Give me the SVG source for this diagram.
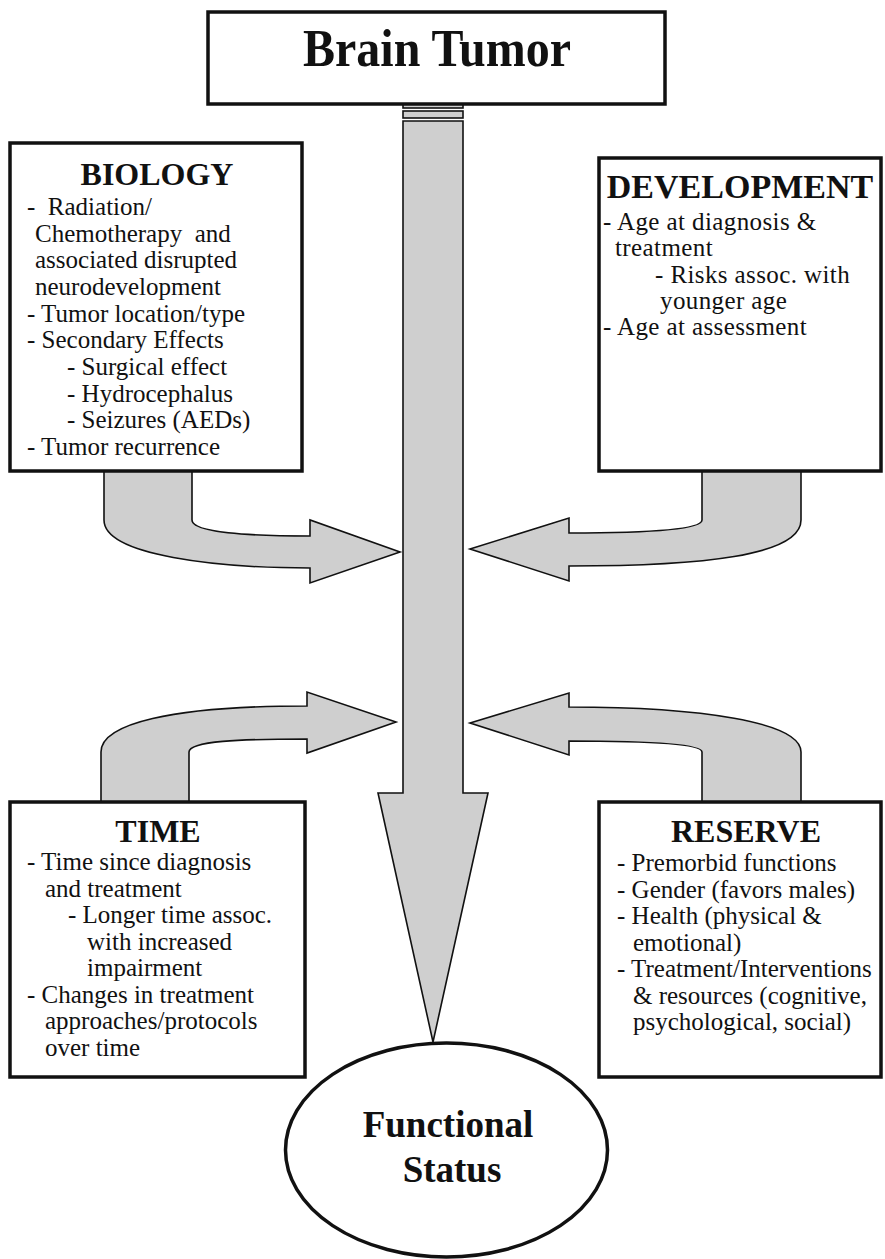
<svg xmlns="http://www.w3.org/2000/svg" width="885" height="1259" viewBox="0 0 885 1259">
  <style>
    .box { fill: #ffffff; stroke: #111111; stroke-width: 3.5; }
    .flow { fill: #cfcfcf; stroke: #111111; stroke-width: 1.6; stroke-linejoin: miter; }
    .title { font-family: "Liberation Serif", "Times New Roman", serif; font-weight: bold; fill: #111111; text-anchor: middle; }
    .body { font-family: "Liberation Serif", "Times New Roman", serif; font-size: 25px; fill: #111111; }
    .dev { letter-spacing: 0.4px; }
  </style>
  <rect width="885" height="1259" fill="#ffffff"/>

  <!-- connectors: the main downward arrow and the four curved influence arrows -->
  <g id="connectors">
    <rect class="flow" x="403" y="104" width="60" height="4"/>
    <rect class="flow" x="403" y="111" width="60" height="7"/>
    <path class="flow" d="M403,121 L463,121 L463,793 L488,793 L433,1042 L378,793 L403,793 Z"/>
    <path class="flow" d="M104,468 L104,520 C104,556 220,568 310,568 L310,583 L400,552 L310,520 L310,536 C250,536 192,533 192,520 L192,468 Z"/>
    <path class="flow" d="M702,468 L702,520 C702,530 640,533 569,533 L569,518 L470,549 L569,581 L569,566 C700,566 801,556 801,520 L801,468 Z"/>
    <path class="flow" d="M101,805 L101,752 C101,724 170,706 307,706 L307,692 L396,722 L307,753 L307,739 C240,739 189,741 189,752 L189,805 Z"/>
    <path class="flow" d="M702,805 L702,752 C702,744 650,741 569,741 L569,755 L470,723 L569,693 L569,707 C700,707 801,722 801,752 L801,805 Z"/>
  </g>

  <g id="brain-tumor">
    <rect class="box" x="208" y="12" width="457" height="92" stroke-width="4"/>
    <text class="title" font-size="48" transform="translate(437,66) scale(1,1.08)">Brain Tumor</text>
  </g>

  <g id="biology">
    <rect class="box" x="10" y="143" width="292" height="328"/>
    <text class="title" x="157" y="185" font-size="32">BIOLOGY</text>
    <text class="body" xml:space="preserve">
      <tspan x="27" y="215">-  Radiation/</tspan>
      <tspan x="35" y="241.7">Chemotherapy  and</tspan>
      <tspan x="35" y="268.3">associated disrupted</tspan>
      <tspan x="35" y="295">neurodevelopment</tspan>
      <tspan x="27" y="321.7">- Tumor location/type</tspan>
      <tspan x="27" y="348.3">- Secondary Effects</tspan>
      <tspan x="67" y="375">- Surgical effect</tspan>
      <tspan x="67" y="401.7">- Hydrocephalus</tspan>
      <tspan x="67" y="428.3">- Seizures (AEDs)</tspan>
      <tspan x="27" y="455">- Tumor recurrence</tspan>
    </text>
  </g>

  <g id="development">
    <rect class="box" x="599" y="158" width="282" height="313"/>
    <text class="title" x="740" y="198" font-size="34">DEVELOPMENT</text>
    <text class="body dev">
      <tspan x="603" y="230">- Age at diagnosis &amp;</tspan>
      <tspan x="615" y="256.3">treatment</tspan>
      <tspan x="655" y="282.6">- Risks assoc. with</tspan>
      <tspan x="660" y="308.9">younger age</tspan>
      <tspan x="603" y="335.2">- Age at assessment</tspan>
    </text>
  </g>

  <g id="time">
    <rect class="box" x="10" y="802" width="295" height="275"/>
    <text class="title" x="158" y="842" font-size="32">TIME</text>
    <text class="body">
      <tspan x="27" y="870">- Time since diagnosis</tspan>
      <tspan x="45" y="896.5">and treatment</tspan>
      <tspan x="68" y="923">- Longer time assoc.</tspan>
      <tspan x="87" y="949.5">with increased</tspan>
      <tspan x="87" y="976">impairment</tspan>
      <tspan x="27" y="1002.5">- Changes in treatment</tspan>
      <tspan x="45" y="1029">approaches/protocols</tspan>
      <tspan x="45" y="1055.5">over time</tspan>
    </text>
  </g>

  <g id="reserve">
    <rect class="box" x="599" y="802" width="282" height="275"/>
    <text class="title" x="746" y="842" font-size="32">RESERVE</text>
    <text class="body">
      <tspan x="617" y="871">- Premorbid functions</tspan>
      <tspan x="617" y="897.5">- Gender (favors males)</tspan>
      <tspan x="617" y="924">- Health (physical &amp;</tspan>
      <tspan x="633" y="950.5">emotional)</tspan>
      <tspan x="617" y="977">- Treatment/Interventions</tspan>
      <tspan x="633" y="1003.5">&amp; resources (cognitive,</tspan>
      <tspan x="633" y="1030">psychological, social)</tspan>
    </text>
  </g>

  <g id="functional-status">
    <ellipse cx="446.5" cy="1150" rx="161" ry="107" fill="#ffffff" stroke="#111111" stroke-width="3.5"/>
    <text class="title" x="448" y="1137" font-size="37">Functional</text>
    <text class="title" x="452" y="1182" font-size="37">Status</text>
  </g>
</svg>
